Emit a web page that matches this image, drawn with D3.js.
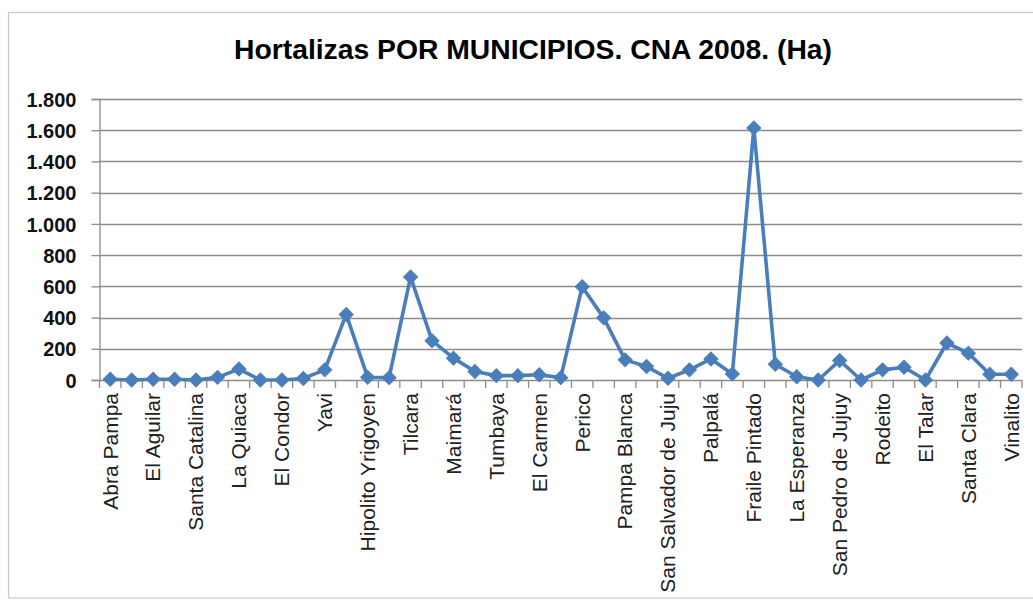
<!DOCTYPE html>
<html>
<head>
<meta charset="utf-8">
<script src="https://cdn.jsdelivr.net/npm/d3@7"></script>
<style>
  html, body { margin: 0; padding: 0; background: #fff; }
  svg { display: block; }
</style>
</head>
<body>
<svg id="chart" width="1033" height="601"></svg>
<script>
// Category labels (Excel showed only every other one; unlabeled categories are "")
const municipios = [
  "Abra Pampa", "", "El Aguilar", "", "Santa Catalina", "", "La Quiaca", "",
  "El Condor", "", "Yavi", "", "Hipolito Yrigoyen", "", "Tilcara", "",
  "Maimará", "", "Tumbaya", "", "El Carmen", "", "Perico", "",
  "Pampa Blanca", "", "San Salvador de Juju", "", "Palpalá", "",
  "Fraile Pintado", "", "La Esperanza", "", "San Pedro de Jujuy", "",
  "Rodeito", "", "El Talar", "", "Santa Clara", "", "Vinalito"
];
// Hectares (Ha) per municipio
const hectareas = [
  5, 0, 5, 5, 0, 17, 70, 0,
  0, 10, 65, 420, 17, 15, 660, 252,
  140, 54, 28, 28, 34, 15, 598, 398,
  129, 86, 11, 65, 135, 39,
  1615, 101, 21, 0, 125, 0,
  65, 82, 0, 237, 172, 37, 37
];
const yTicks = [0, 200, 400, 600, 800, 1000, 1200, 1400, 1600, 1800];
const titulo = "Hortalizas POR MUNICIPIOS. CNA 2008. (Ha)";

const svg = d3.select("#chart");
const pLeft = 99.5, pRight = 1022, pTop = 99, pBottom = 380;
const lineColor = "#4a7ebb";
const gridColor = "#8c8c8c";

// frame
svg.append("rect")
  .attr("x", 8.5).attr("y", 12.5)
  .attr("width", 1040).attr("height", 585.5)
  .attr("fill", "#fff").attr("stroke", "#bccbdb").attr("stroke-width", 1.2);

// title
svg.append("text")
  .attr("x", 533).attr("y", 59)
  .attr("text-anchor", "middle")
  .attr("font-family", "Liberation Sans, Arial, sans-serif")
  .attr("font-weight", "bold")
  .attr("font-size", 27)
  .attr("fill", "#000")
  .attr("textLength", 598)
  .attr("lengthAdjust", "spacingAndGlyphs")
  .text(titulo);

const idx = d3.range(hectareas.length);
const x = d3.scaleBand().domain(idx).range([pLeft, pRight]).padding(0);
const y = d3.scaleLinear().domain([0, 1800]).range([pBottom, pTop]);
const cx = i => x(i) + x.bandwidth() / 2;

// gridlines
svg.append("g").selectAll("line")
  .data(yTicks.filter(d => d > 0))
  .join("line")
  .attr("x1", pLeft).attr("x2", pRight)
  .attr("y1", d => Math.round(y(d)) + 0.5).attr("y2", d => Math.round(y(d)) + 0.5)
  .attr("stroke", gridColor).attr("stroke-width", 1.3);

// y axis
const yAxis = d3.axisLeft(y).tickValues(yTicks).tickSize(8).tickPadding(15)
  .tickFormat(d => d3.format(",")(d).replace(/,/g, "."));
const gy = svg.append("g").attr("transform", `translate(${pLeft},0)`).call(yAxis);
gy.select(".domain").attr("stroke", gridColor).attr("stroke-width", 1.3);
gy.selectAll(".tick line").attr("stroke", gridColor).attr("stroke-width", 1.3);
gy.selectAll(".tick text")
  .attr("font-family", "Liberation Sans, Arial, sans-serif")
  .attr("font-weight", "bold")
  .attr("font-size", 20)
  .attr("fill", "#111")
  .attr("dy", "0.36em");

// x axis baseline and ticks at category boundaries
svg.append("line")
  .attr("x1", pLeft).attr("x2", pRight)
  .attr("y1", pBottom + 0.5).attr("y2", pBottom + 0.5)
  .attr("stroke", gridColor).attr("stroke-width", 1.3);
const bounds = idx.map(i => x(i)).concat([x(idx[idx.length - 1]) + x.bandwidth()]);
svg.append("g").selectAll("line")
  .data(bounds)
  .join("line")
  .attr("x1", d => d).attr("x2", d => d)
  .attr("y1", pBottom).attr("y2", pBottom + 8)
  .attr("stroke", gridColor).attr("stroke-width", 1.3);

// x labels
svg.append("g").selectAll("text")
  .data(idx.filter(i => municipios[i] !== ""))
  .join("text")
  .attr("transform", i => `translate(${cx(i)},393) rotate(-90)`)
  .attr("text-anchor", "end")
  .attr("dy", "0.35em")
  .attr("font-family", "Liberation Sans, Arial, sans-serif")
  .attr("font-size", 21)
  .attr("fill", "#222")
  .text(i => municipios[i]);

// line
const line = d3.line().x((d, i) => cx(i)).y(d => y(d));
svg.append("path")
  .datum(hectareas)
  .attr("d", line)
  .attr("fill", "none")
  .attr("stroke", lineColor)
  .attr("stroke-width", 3.6)
  .attr("stroke-linejoin", "round");

// diamond markers
const diamond = d3.symbol().type(d3.symbolSquare).size(98);
svg.append("g").selectAll("path")
  .data(hectareas)
  .join("path")
  .attr("d", diamond)
  .attr("transform", (d, i) => `translate(${cx(i)},${y(d)}) rotate(45)`)
  .attr("fill", lineColor)
  .attr("stroke", lineColor)
  .attr("stroke-width", 1);
</script>
</body>
</html>
